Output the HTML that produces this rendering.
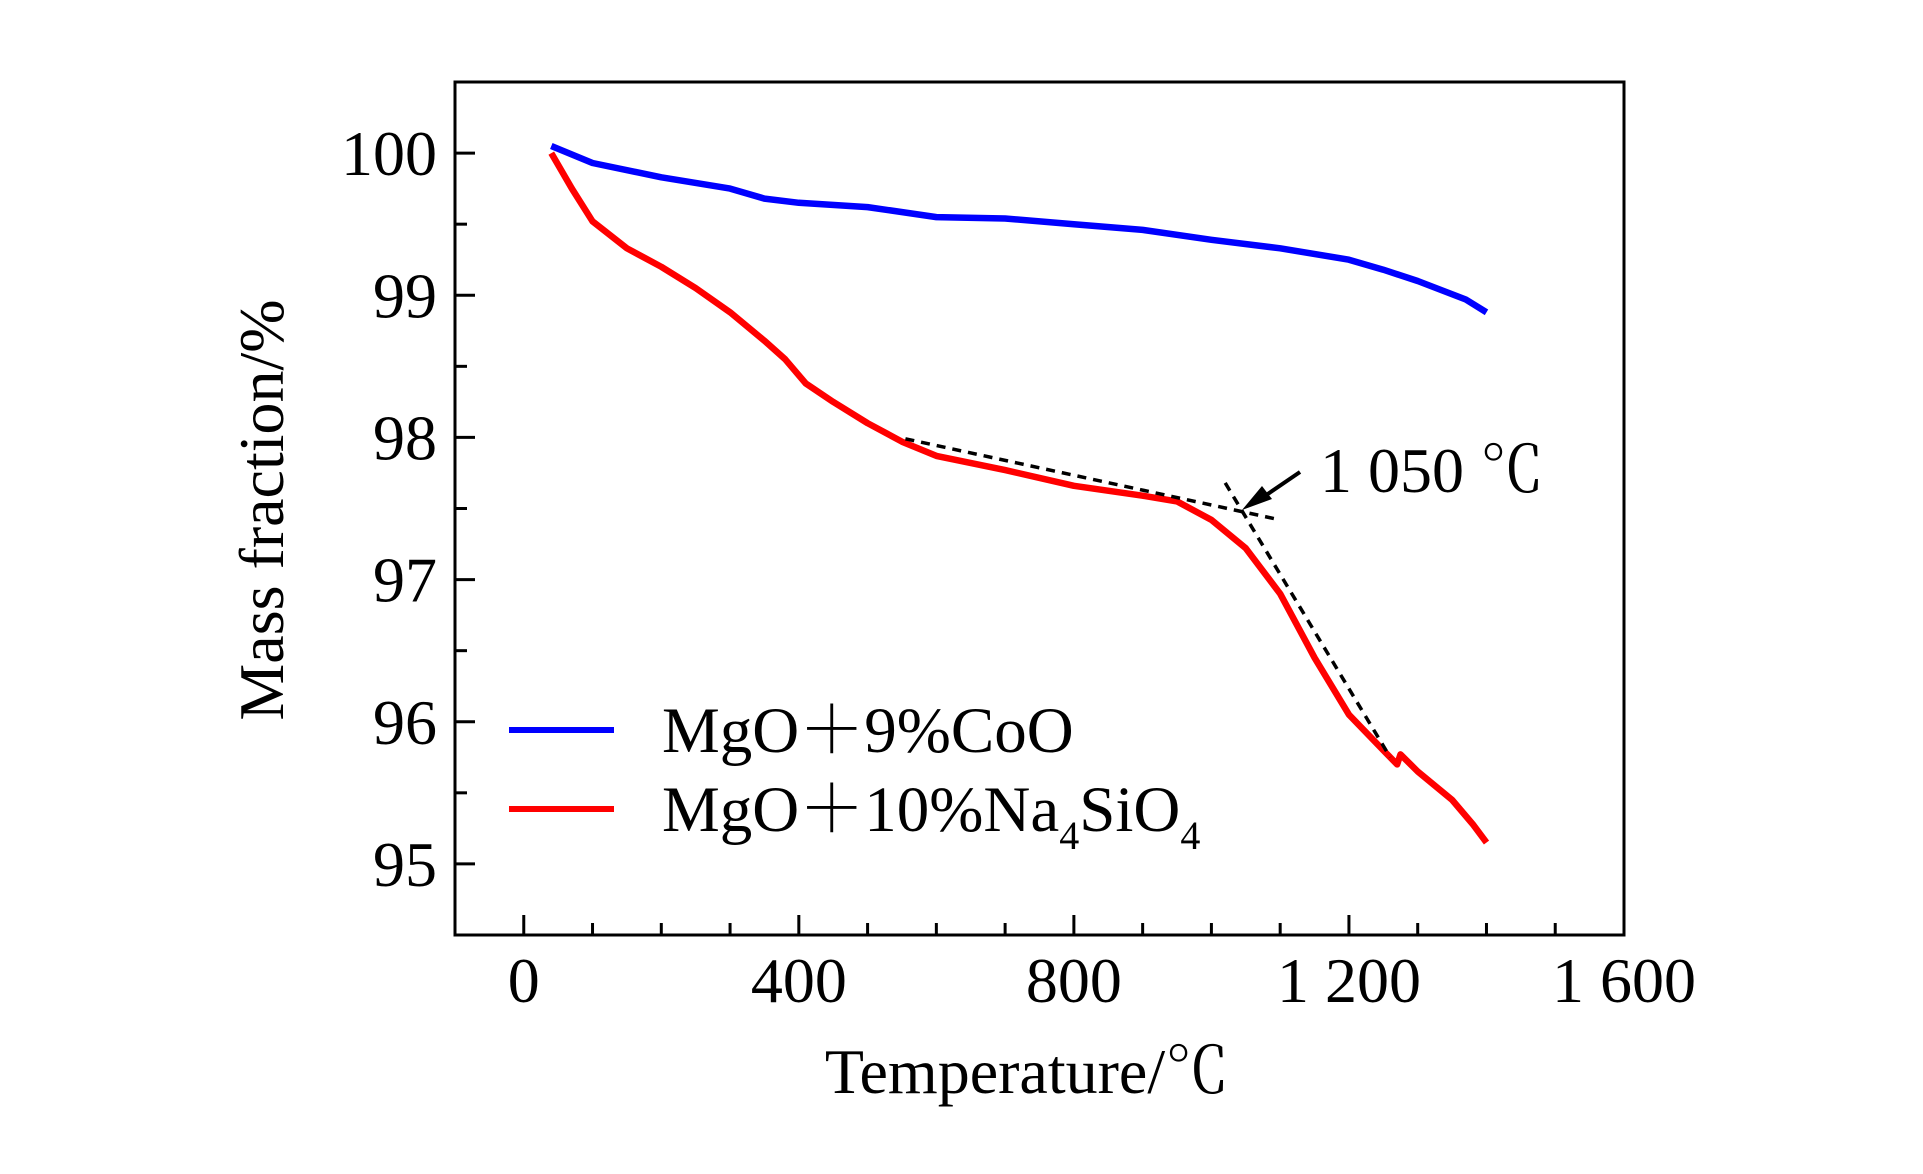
<!DOCTYPE html>
<html><head><meta charset="utf-8"><style>
html,body{margin:0;padding:0;background:#fff}
svg text{font-family:"Liberation Serif","Noto Serif CJK SC",serif;fill:#000}
</style></head><body>
<svg id="chart" width="1923" height="1169" viewBox="0 0 1923 1169" xmlns="http://www.w3.org/2000/svg">
<rect x="455" y="82" width="1169" height="853" fill="none" stroke="#000" stroke-width="3"/>
<g id="ticks"></g>
<g id="series"></g>
<g id="annot">
<polyline fill="none" stroke="#000" stroke-width="3.5" stroke-dasharray="9,7" id="tan1"/>
<polyline fill="none" stroke="#000" stroke-width="3.5" stroke-dasharray="9,7" id="tan2"/>
<line x1="1300" y1="472" x2="1256" y2="502" stroke="#000" stroke-width="4"/>
<polygon points="1242,510 1262,486 1272,499" fill="#000"/>
<text x="1320" y="492" font-size="64">1 050 ℃</text>
</g>
<g>
<line x1="509" y1="730" x2="614" y2="730" stroke="#0000ff" stroke-width="6"/>
<text x="662" y="752" font-size="65">MgO＋9%CoO</text>
<line x1="509" y1="809" x2="614" y2="809" stroke="#ff0000" stroke-width="6"/>
<text x="662" y="831" font-size="65">MgO＋10%Na<tspan font-size="40" dy="18">4</tspan><tspan dy="-18">SiO</tspan><tspan font-size="40" dy="18">4</tspan></text>
</g>
<text x="1027" y="1093" font-size="64" text-anchor="middle">Temperature/℃</text>
<text transform="translate(283,510) rotate(-90)" font-size="64" text-anchor="middle">Mass fraction/%</text>
</svg>
<script>
const xTicks=[0,400,800,1200,1600];
const xTickLabels=["0","400","800","1 200","1 600"];
const yTicks=[95,96,97,98,99,100];
const yTickLabels=["95","96","97","98","99","100"];
const cooT=[40,100,200,300,350,400,500,600,700,800,900,1000,1100,1200,1250,1300,1370,1400];
const cooM=[100.05,99.93,99.83,99.75,99.68,99.65,99.62,99.55,99.54,99.5,99.46,99.39,99.33,99.25,99.18,99.1,98.97,98.88];
const naT=[40,70,100,150,200,250,300,350,380,410,450,500,550,600,700,800,900,950,1000,1050,1100,1150,1200,1250,1270,1275,1300,1350,1380,1400];
const naM=[100,99.75,99.52,99.33,99.2,99.05,98.88,98.68,98.55,98.38,98.25,98.1,97.97,97.87,97.77,97.66,97.59,97.55,97.42,97.22,96.9,96.45,96.05,95.8,95.7,95.77,95.65,95.45,95.28,95.15];
const tan1T=[555,1100],tan1M=[97.99,97.42];
const tan2T=[1020,1260],tan2M=[97.68,95.75];
const X=t=>455+(t+100)*(1169/1700);
const Y=m=>935-(m-94.5)*(853/6);
const NS="http://www.w3.org/2000/svg";
const tg=document.getElementById('ticks');
function mk(tag,attrs,parent){const e=document.createElementNS(NS,tag);for(const k in attrs)e.setAttribute(k,attrs[k]);parent.appendChild(e);return e;}
for(let t=0;t<=1500;t+=100){
 const l=mk('line',{x1:X(t),x2:X(t),y1:935,y2:t%400===0?915:923,stroke:'#000','stroke-width':3},tg);
 
 
}
xTicks.forEach((t,i)=>{const e=mk('text',{x:X(t),y:1002,'font-size':64,'text-anchor':'middle'},tg);e.textContent=xTickLabels[i];
 
 });
for(let m=95;m<=100.01;m+=0.5){
 const l=mk('line',{x1:455,x2:Math.abs(m-Math.round(m))<0.01?475:467,y1:Y(m),y2:Y(m),stroke:'#000','stroke-width':3},tg);
 
 
}
yTicks.forEach((m,i)=>{const e=mk('text',{x:437,y:Y(m)+22,'font-size':64,'text-anchor':'end'},tg);e.textContent=yTickLabels[i];
 
 });
const sg=document.getElementById('series');
const pts=(T,M)=>T.map((t,i)=>X(t).toFixed(1)+','+Y(M[i]).toFixed(1)).join(' ');
const p1=mk('polyline',{points:pts(cooT,cooM),fill:'none',stroke:'#0000ff','stroke-width':6.5,'stroke-linejoin':'round'},sg);


const p2=mk('polyline',{points:pts(naT,naM),fill:'none',stroke:'#ff0000','stroke-width':6.5,'stroke-linejoin':'round'},sg);


document.getElementById('tan1').setAttribute('points',pts(tan1T,tan1M));
document.getElementById('tan2').setAttribute('points',pts(tan2T,tan2M));
</script>
</body></html>
